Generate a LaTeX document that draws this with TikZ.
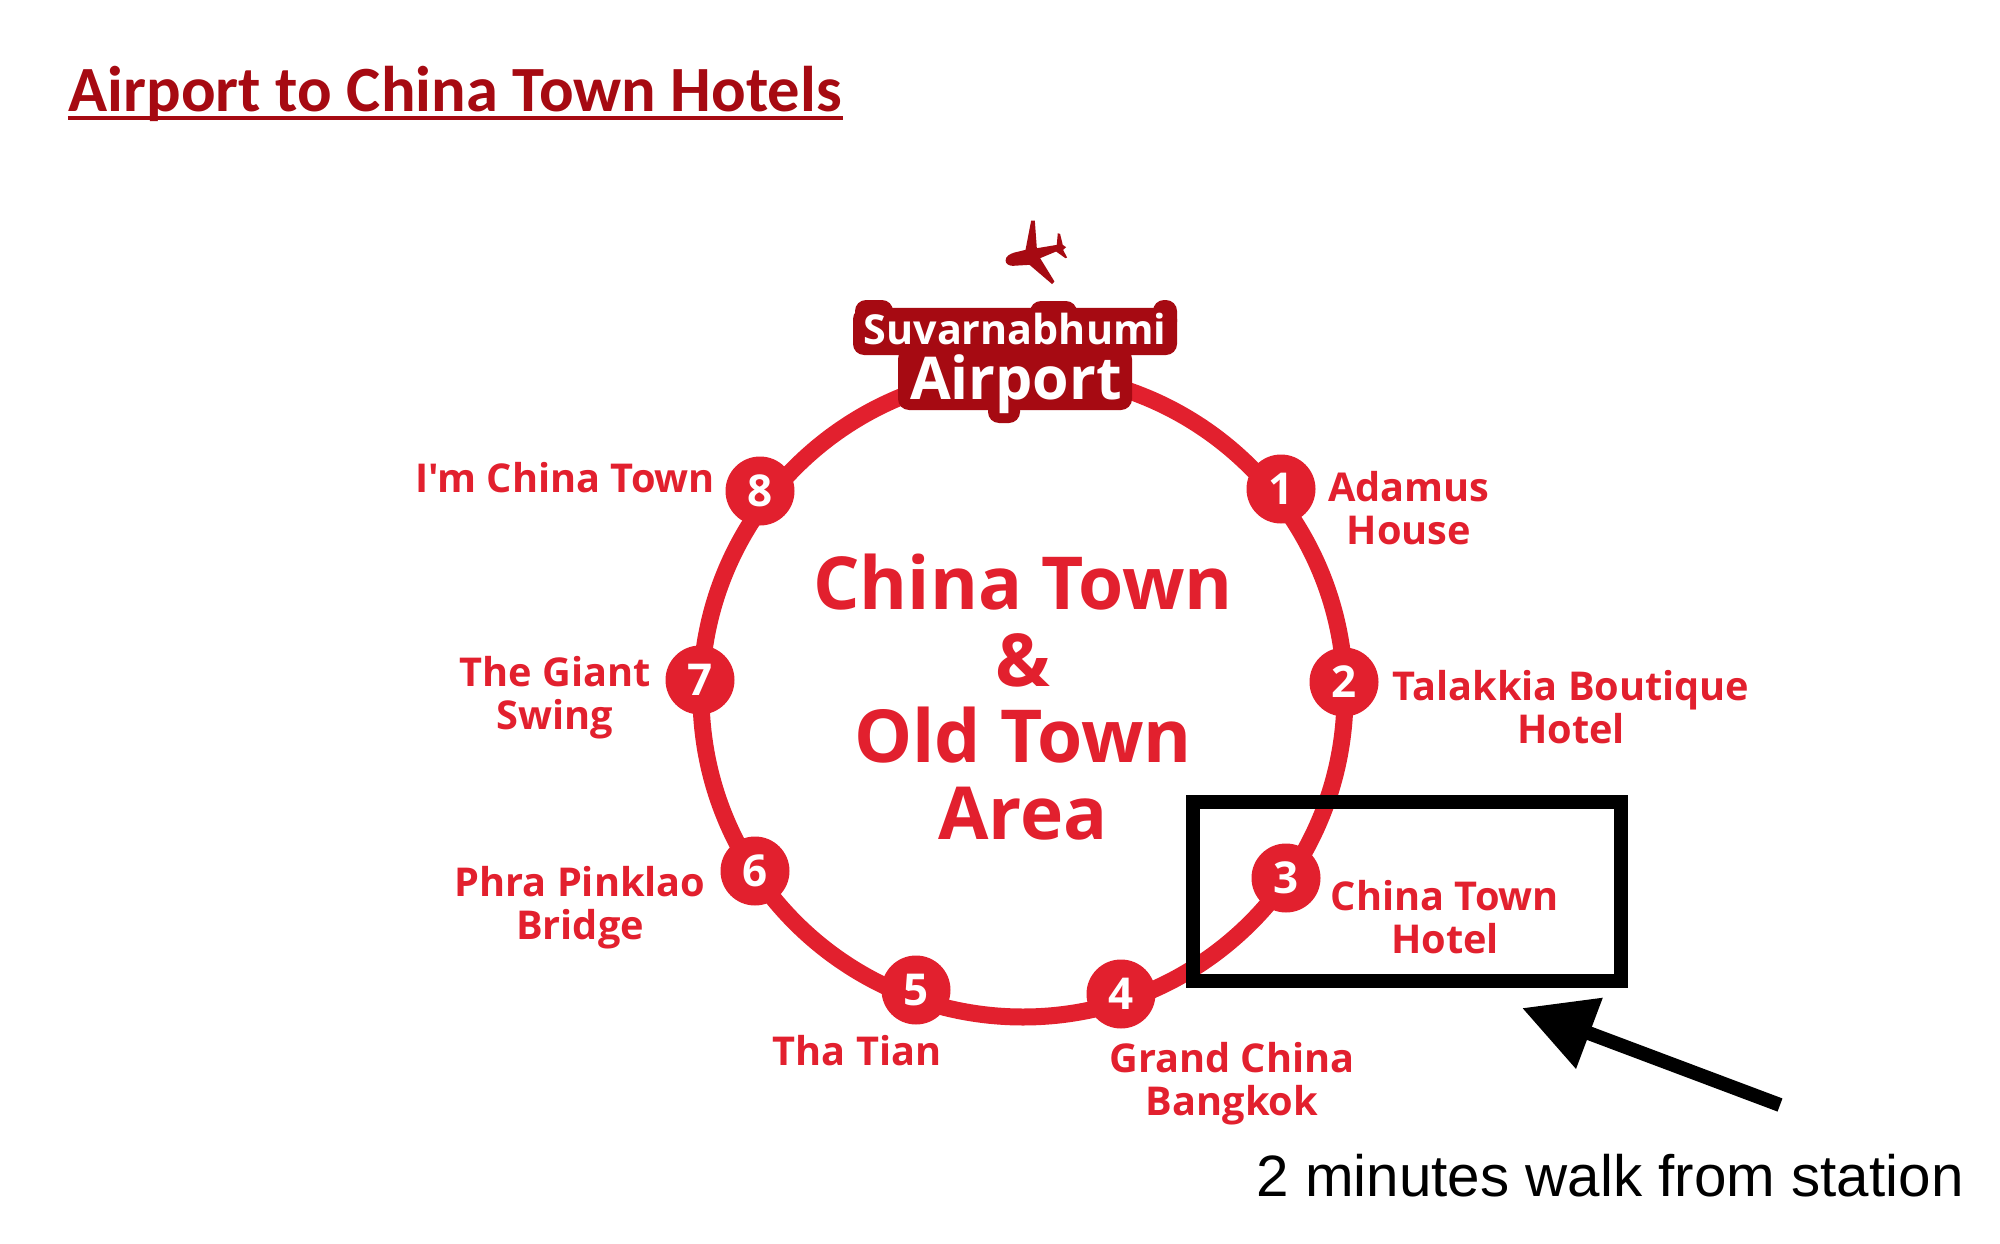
\documentclass[tikz,border=0pt]{standalone}
\usepackage{fontspec}
\usetikzlibrary{arrows.meta}
\setmainfont{Open Sans}[Ligatures=TeXOff]
\newfontfamily\capfont{Liberation Sans}
\newfontfamily\titlefont{Carlito}
\definecolor{routered}{HTML}{E2202E}
\definecolor{darkred}{HTML}{A60A12}
\tikzset{
  stopdot/.style={circle,fill=routered,text=white,minimum size=0.69cm,inner sep=0pt,font=\bfseries\fontsize{12.5}{12.5}\selectfont},
  hotel/.style={text=routered,align=center,inner sep=0pt,font=\bfseries\fontsize{11.3}{12.2}\selectfont},
  halo/.style={fill=darkred,rounded corners=0.11cm},
  airporttext/.style={text=white,inner sep=0pt,anchor=base},
}
\begin{document}
\begin{tikzpicture}
\useasboundingbox (0,0) rectangle (20,12.43);
% title
\node[text=darkred,anchor=base west,inner sep=0pt,font=\titlefont\bfseries\fontsize{18.36}{18.36}\selectfont] (title) at (0.68,11.31) {Airport to China Town Hotels};
\draw[darkred,line width=0.035cm] ([yshift=-0.06cm]title.base west) -- ([yshift=-0.06cm]title.base east);
% plane
\begin{scope}[shift={(8,10.53)},x=0.00333cm,y=-0.00333cm]
\fill[darkred] (618,212) .. controls (618,200) and (630,192) .. (645,188) -- (678,180) -- (695,92) -- (706,92) -- (712,175) -- (772,165) -- (775,130) -- (782,132) -- (790,165) -- (800,172) -- (791,180) -- (803,203) -- (798,205) -- (770,185) -- (722,205) -- (765,275) -- (758,283) -- (690,225) -- (640,228) .. controls (628,228) and (618,222) .. (618,212) -- cycle;
\end{scope}
% ring
\draw[routered,line width=0.17cm] (10.23,5.48) circle (3.22);
% airport name
\fill[halo] (8.53,8.88) rectangle (11.77,9.35);
\fill[halo] (8.55,9.10) rectangle (8.93,9.43);
\fill[halo] (10.30,9.10) rectangle (10.77,9.42);
\fill[halo] (11.53,9.10) rectangle (11.77,9.43);
\fill[halo] (8.98,8.33) rectangle (11.32,8.95);
\fill[halo] (9.88,8.20) rectangle (10.20,8.50);
\node[airporttext,font=\bfseries\fontsize{11.75}{11.75}\selectfont] (airporttop) at (10.15,8.99) {Suvarnabhumi};
\node[airporttext,font=\bfseries\fontsize{16.8}{16.8}\selectfont] (airportlow) at (10.16,8.44) {Airport};
% stops
\node[stopdot] (stopa) at (12.81,7.54) {1};
\node[stopdot] (stopb) at (13.44,5.61) {2};
\node[stopdot] (stopc) at (12.86,3.65) {3};
\node[stopdot] (stopd) at (11.21,2.49) {4};
\node[stopdot] (stope) at (9.16,2.53) {5};
\node[stopdot] (stopf) at (7.55,3.72) {6};
\node[stopdot] (stopg) at (7.00,5.63) {7};
\node[stopdot] (stoph) at (7.60,7.52) {8};
% names
\node[hotel] (adamus) at (14.09,7.35) {Adamus\\House};
\node[hotel] (talakkia) at (15.71,5.36) {Talakkia Boutique\\Hotel};
\node[hotel] (chinatown) at (14.45,3.26) {China Town\\Hotel};
\node[hotel] (grandchina) at (12.32,1.59) {Grand China\\Bangkok};
\node[hotel] (thatian) at (8.57,1.92) {Tha Tian};
\node[hotel] (phra) at (5.80,3.35) {Phra Pinklao\\Bridge};
\node[hotel] (giant) at (5.55,5.45) {The Giant\\Swing};
\node[hotel] (imchina) at (5.65,7.65) {I'm China Town};
\node[text=routered,align=center,inner sep=0pt,font=\bfseries\fontsize{20.8}{21.8}\selectfont] (area) at (10.23,5.46) {China Town\\\&\\Old Town\\Area};
% box and arrow
\draw[black,line width=0.14cm] (11.93,2.62) rectangle (16.21,4.41);
\coordinate (arrowtip) at (15.22,2.35);
\coordinate (arrowtail) at (17.80,1.38);
\draw[-{Triangle[length=0.72cm,width=0.72cm]},line width=0.14cm] (arrowtail) -- (arrowtip);
\node[anchor=base west,inner sep=0pt,font=\capfont\fontsize{16.6}{16.6}\selectfont] (walk) at (12.56,0.47) {2 minutes walk from station};
\end{tikzpicture}
\end{document}
